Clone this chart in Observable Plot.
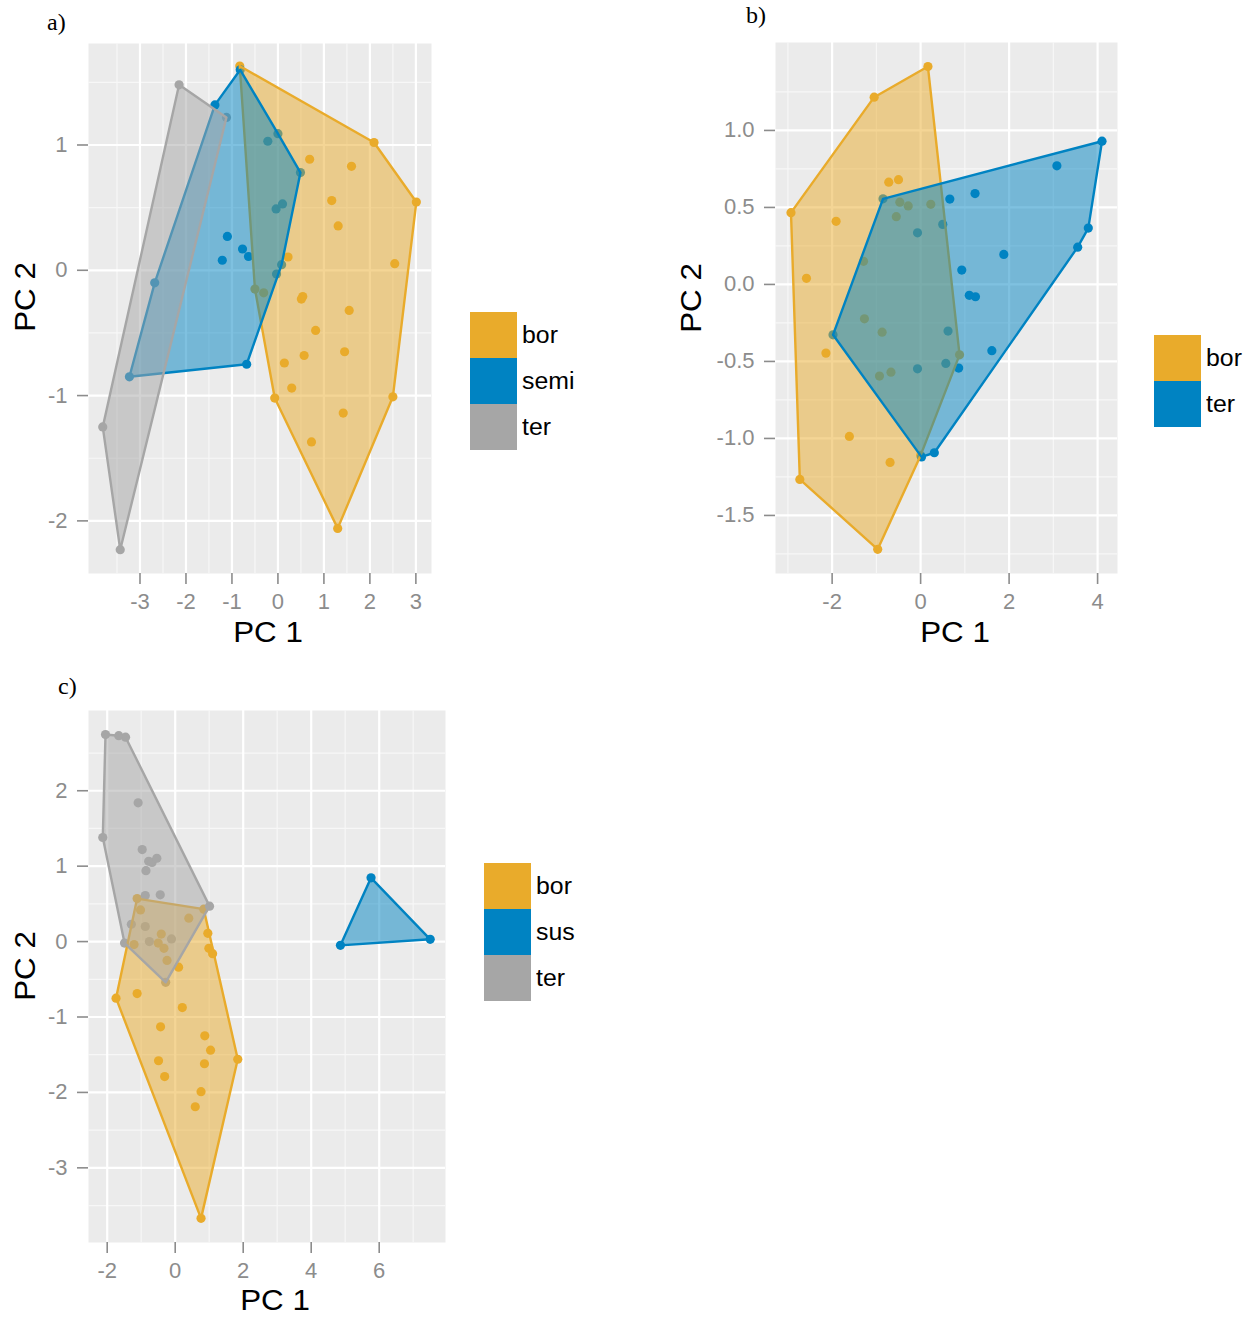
<!DOCTYPE html>
<html><head><meta charset="utf-8">
<script src="https://cdn.jsdelivr.net/npm/d3@7"></script>
<script src="https://cdn.jsdelivr.net/npm/@observablehq/plot@0.6"></script>
<style>
body{margin:0;background:#fff;width:1256px;height:1317px;position:relative;overflow:hidden;font-family:"Liberation Sans",Arial,sans-serif;}
.panel{position:absolute;}
.tag{position:absolute;font-family:"Liberation Serif","Times New Roman",serif;font-size:24px;line-height:1;color:#000;}
.xt{position:absolute;font-size:29px;line-height:1;transform:translate(-50%,-50%) scaleX(1.08);white-space:nowrap;color:#000;}
.yt{position:absolute;font-size:29px;line-height:1;transform:translate(-50%,-50%) rotate(-90deg) scaleX(1.08);white-space:nowrap;color:#000;}
.leg{position:absolute;}
.leg .row{display:flex;align-items:center;height:46px;}
.leg .sw{width:47px;height:46px;}
.leg .lab{font-size:23px;margin-left:5px;color:#000;transform:scaleX(1.08);transform-origin:left center;}
</style></head><body>
<script>
// ---- Panel a data (PC1, PC2) ----
const aBor = [[-0.83,1.63],[2.09,1.02],[3.01,0.545],[0.69,0.886],[1.60,0.83],[1.17,0.556],[1.31,0.354],[0.22,0.106],[2.54,0.053],[0.51,-0.23],[0.54,-0.21],[1.55,-0.32],[0.82,-0.48],[0.57,-0.68],[1.45,-0.65],[0.14,-0.74],[0.30,-0.94],[-0.07,-1.02],[2.50,-1.01],[1.42,-1.14],[0.73,-1.37],[1.30,-2.06],[-0.50,-0.15],[-0.31,-0.18]];
const aSemi = [[-1.37,1.32],[-0.82,1.60],[-0.22,1.03],[0.00,1.09],[0.49,0.78],[-0.04,0.49],[0.10,0.53],[-1.10,0.27],[-1.21,0.08],[-0.77,0.17],[-0.64,0.11],[0.08,0.045],[-0.03,-0.03],[-0.68,-0.75],[-3.23,-0.85],[-2.68,-0.10]];
const aTer = [[-2.15,1.48],[-1.12,1.22],[-3.81,-1.25],[-3.43,-2.23]];
// ---- Panel b data ----
const bBor = [[0.165,1.415],[-1.05,1.216],[-2.93,0.466],[-1.91,0.41],[-0.72,0.664],[-0.50,0.68],[-2.58,0.04],[-0.47,0.534],[-0.28,0.51],[0.23,0.52],[-0.55,0.44],[-1.29,0.15],[-1.27,-0.223],[-0.87,-0.31],[-2.14,-0.446],[0.88,-0.457],[-0.93,-0.595],[-0.67,-0.57],[-1.61,-0.987],[-0.69,-1.156],[-2.73,-1.266],[-0.97,-1.72],[0.0,-1.11]];
const bTer = [[-0.85,0.556],[0.66,0.554],[1.23,0.59],[3.08,0.77],[4.10,0.93],[3.79,0.366],[3.55,0.242],[1.88,0.195],[0.93,0.093],[1.10,-0.071],[1.24,-0.08],[-0.07,0.335],[0.50,0.39],[-1.98,-0.327],[0.62,-0.303],[1.61,-0.43],[0.86,-0.543],[0.57,-0.513],[-0.07,-0.548],[0.02,-1.12],[0.31,-1.093]];
// ---- Panel c data ----
const cBor = [[-1.74,-0.75],[-1.12,-0.69],[0.21,-0.875],[-0.43,-1.13],[0.87,-1.25],[1.04,-1.44],[1.84,-1.56],[-0.49,-1.58],[0.86,-1.62],[-0.31,-1.79],[0.76,-1.99],[0.59,-2.19],[0.76,-3.67],[-1.12,0.57],[0.84,0.43],[0.96,0.11],[0.99,-0.09],[1.10,-0.16],[0.10,-0.34],[-1.02,0.42],[-0.41,0.10],[-0.50,-0.02],[-0.33,-0.09],[0.40,0.31],[-1.21,-0.04],[-0.24,-0.25]];
const cSus = [[5.76,0.845],[4.86,-0.05],[7.50,0.03]];
const cTer = [[-2.05,2.745],[-1.66,2.73],[-1.46,2.71],[-1.09,1.84],[-2.13,1.38],[-0.97,1.22],[-0.78,1.065],[-0.68,1.05],[-0.54,1.105],[-0.86,0.94],[-0.88,0.61],[-0.44,0.62],[1.01,0.47],[-1.49,-0.02],[-0.28,-0.54],[-1.29,0.23],[-0.88,0.20],[-0.11,0.035],[-0.76,0.00]];

// ---- groups and colours ----
const aGroups = ["bor","semi","ter"];
const bGroups = ["bor","ter"];
const cGroups = ["bor","sus","ter"];
const orange = "#E9AB2B", blue = "#0083C2", grey = "#A6A6A6";
const aColors = [orange, blue, grey];
const bColors = [orange, blue];
const cColors = [orange, blue, grey];

// ---- ticks ----
const aXTicks = [-3,-2,-1,0,1,2,3], aYTicks = [-2,-1,0,1];
const aXMinor = [-3.5,-2.5,-1.5,-0.5,0.5,1.5,2.5], aYMinor = [-1.5,-0.5,0.5,1.5];
const bXTicks = [-2,0,2,4], bYTicks = [-1.5,-1,-0.5,0,0.5,1];
const bXMinor = [-3,-1,1,3], bYMinor = [-1.75,-1.25,-0.75,-0.25,0.25,0.75,1.25];
const cXTicks = [-2,0,2,4,6], cYTicks = [-3,-2,-1,0,1,2];
const cXMinor = [-1,1,3,5,7], cYMinor = [-3.5,-2.5,-1.5,-0.5,0.5,1.5,2.5];

function table(groups, lists) {
  const rows = [];
  groups.forEach((g, i) => lists[i].forEach(([x, y]) => rows.push({x, y, g})));
  return rows;
}

function panel(cfg) {
  const data = table(cfg.groups, cfg.lists);
  const svg = Plot.plot({
    width: cfg.width, height: cfg.height,
    marginLeft: cfg.ml, marginRight: cfg.mr, marginTop: cfg.mt, marginBottom: cfg.mb,
    x: {domain: cfg.xd}, y: {domain: cfg.yd},
    color: {domain: cfg.groups, range: cfg.colors},
    style: {color: "#8C8C8C", background: "transparent", fontFamily: "Liberation Sans, Arial, sans-serif", overflow: "visible"},
    marks: [
      Plot.frame({fill: "#EBEBEB", stroke: null}),
      Plot.ruleX(cfg.xMinor, {stroke: "#F7F7F7", strokeWidth: 1.2}),
      Plot.ruleY(cfg.yMinor, {stroke: "#F7F7F7", strokeWidth: 1.2}),
      Plot.ruleX(cfg.xTicks, {stroke: "#FFFFFF", strokeWidth: 2.2}),
      Plot.ruleY(cfg.yTicks, {stroke: "#FFFFFF", strokeWidth: 2.2}),
      Plot.dot(data, {x: "x", y: "y", fill: "g", r: 4.6}),
      Plot.hull(data, {x: "x", y: "y", z: "g", fill: "g", stroke: "g", fillOpacity: 0.5, strokeWidth: 2.4, strokeLinejoin: "round"}),
      Plot.axisX(cfg.xTicks, {tickSize: 11, tickPadding: 9, fontSize: 22, strokeWidth: 1.6, tickFormat: cfg.xf, label: null}),
      Plot.axisY(cfg.yTicks, {tickSize: 11, tickPadding: 10, fontSize: 22, strokeWidth: 1.6, tickFormat: cfg.yf, label: null})
    ]
  });
  const wrap = document.createElement("div");
  wrap.className = "panel";
  wrap.style.left = cfg.left + "px";
  wrap.style.top = cfg.top + "px";
  wrap.appendChild(svg);
  document.body.appendChild(wrap);
}

function addText(cls, text, left, top) {
  const d = document.createElement("div");
  d.className = cls; d.textContent = text;
  d.style.left = left + "px"; d.style.top = top + "px";
  document.body.appendChild(d);
}

function legend(groups, colors, left, top) {
  const d = document.createElement("div");
  d.className = "leg"; d.style.left = left + "px"; d.style.top = top + "px";
  groups.forEach((g, i) => {
    const r = document.createElement("div"); r.className = "row";
    const s = document.createElement("div"); s.className = "sw"; s.style.background = colors[i];
    const l = document.createElement("div"); l.className = "lab"; l.textContent = g;
    r.appendChild(s); r.appendChild(l); d.appendChild(r);
  });
  document.body.appendChild(d);
}

const fInt = d => String(d);
const f1 = d => d.toFixed(1);

panel({groups: aGroups, lists: [aBor, aSemi, aTer], colors: aColors,
  width: 445, height: 650, ml: 88, mr: 14, mt: 43, mb: 77, left: 0, top: 0,
  xd: [-4.12, 3.34], yd: [-2.42, 1.81],
  xTicks: aXTicks, yTicks: aYTicks, xMinor: aXMinor, yMinor: aYMinor, xf: fInt, yf: fInt});

panel({groups: bGroups, lists: [bBor, bTer], colors: bColors,
  width: 430, height: 650, ml: 75, mr: 13, mt: 42, mb: 77, left: 700, top: 0,
  xd: [-3.28, 4.45], yd: [-1.877, 1.571],
  xTicks: bXTicks, yTicks: bYTicks, xMinor: bXMinor, yMinor: bYMinor, xf: fInt, yf: f1});

panel({groups: cGroups, lists: [cBor, cSus, cTer], colors: cColors,
  width: 460, height: 650, ml: 88, mr: 15, mt: 50, mb: 68, left: 0, top: 660,
  xd: [-2.55, 7.95], yd: [-3.99, 3.064],
  xTicks: cXTicks, yTicks: cYTicks, xMinor: cXMinor, yMinor: cYMinor, xf: fInt, yf: fInt});

addText("tag", "a)", 47, 10);
addText("tag", "b)", 746, 3);
addText("tag", "c)", 58, 674);
addText("xt", "PC 1", 268, 632);
addText("xt", "PC 1", 955, 632);
addText("xt", "PC 1", 275, 1300);
addText("yt", "PC 2", 25, 297);
addText("yt", "PC 2", 691, 298);
addText("yt", "PC 2", 25, 966);
legend(aGroups, aColors, 470, 312);
legend(bGroups, bColors, 1154, 335);
legend(cGroups, cColors, 484, 863);
</script>
</body></html>
